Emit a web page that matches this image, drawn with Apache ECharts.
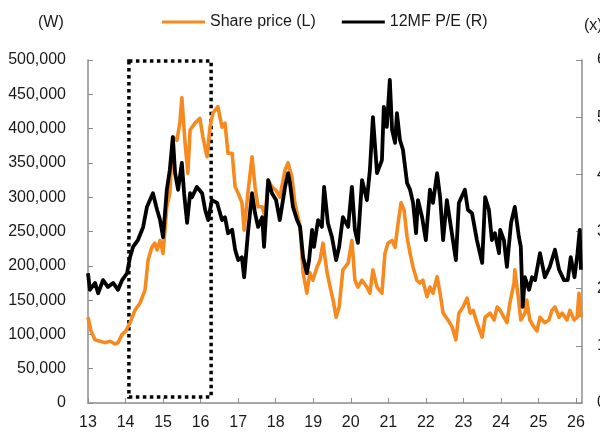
<!DOCTYPE html>
<html>
<head>
<meta charset="utf-8">
<script src="https://cdn.jsdelivr.net/npm/echarts@6/dist/echarts.min.js"></script>
<style>
html,body{margin:0;padding:0;background:#fff;}
#chart{width:600px;height:440px;}
</style>
</head>
<body>
<div id="chart"></div>
<script>
// x values are years (13 = Jan 2013)
var xTicks = [13,14,15,16,17,18,19,20,21,22,23,24,25,26];
var priceYears = [13.00,13.08,13.19,13.32,13.45,13.59,13.72,13.80,13.91,14.01,14.12,14.25,14.39,14.52,14.60,14.70,14.78,14.84,14.92,15.00,
15.10,15.18,15.26,15.37,15.45,15.50,15.58,15.66,15.72,15.85,15.98,16.06,16.17,16.25,16.33,16.46,16.57,16.65,16.73,16.84,
16.92,17.00,17.10,17.16,17.26,17.37,17.45,17.53,17.64,17.72,17.80,17.90,18.01,18.11,18.25,18.33,18.43,18.51,18.65,18.73,
18.83,18.91,18.99,19.10,19.18,19.26,19.37,19.45,19.53,19.61,19.69,19.79,19.93,20.03,20.11,20.19,20.30,20.43,20.51,20.59,
20.70,20.83,20.91,20.99,21.10,21.18,21.26,21.34,21.42,21.50,21.58,21.66,21.76,21.84,21.92,22.03,22.11,22.19,22.30,22.38,
22.46,22.59,22.70,22.80,22.88,22.99,23.10,23.18,23.26,23.36,23.50,23.58,23.71,23.82,23.90,23.98,24.08,24.16,24.24,24.35,
24.37,24.45,24.53,24.64,24.69,24.77,24.88,24.96,25.04,25.17,25.28,25.36,25.44,25.55,25.63,25.76,25.84,25.95,26.03,26.08,26.13];
var priceValues = [125000,105000,92000,90000,88000,90000,86000,88000,100000,105000,117000,135000,146000,165000,208000,227000,233000,223000,237000,218000,
286000,306000,388000,383000,410000,445000,383000,335000,398000,408000,415000,388000,359000,402000,423000,432000,402000,408000,364000,364000,
315000,306000,292000,252000,306000,359000,315000,286000,286000,271000,325000,315000,310000,300000,340000,350000,330000,292000,257000,190000,
160000,190000,179000,198000,208000,233000,190000,169000,150000,125000,140000,194000,204000,237000,179000,169000,179000,169000,160000,194000,
169000,160000,218000,233000,237000,227000,262000,292000,281000,242000,218000,198000,179000,175000,179000,155000,169000,160000,184000,160000,
131000,121000,111000,92000,131000,140000,153000,131000,135000,117000,96000,125000,131000,121000,140000,135000,125000,117000,146000,175000,
194000,160000,121000,131000,150000,121000,111000,105000,125000,117000,121000,135000,140000,125000,131000,121000,135000,121000,125000,160000,125000];

var peYears = [13.00,13.05,13.19,13.27,13.40,13.53,13.67,13.80,13.91,14.04,14.12,14.20,14.33,14.47,14.57,14.65,14.73,14.84,14.92,15.00,
15.10,15.18,15.26,15.32,15.40,15.50,15.56,15.64,15.72,15.77,15.90,16.04,16.12,16.20,16.30,16.44,16.57,16.65,16.73,16.84,
16.92,17.00,17.10,17.16,17.26,17.37,17.45,17.53,17.64,17.69,17.80,17.90,18.01,18.11,18.25,18.33,18.38,18.46,18.57,18.65,
18.73,18.83,18.89,18.97,19.02,19.13,19.23,19.29,19.39,19.50,19.61,19.69,19.79,19.93,20.03,20.11,20.19,20.30,20.43,20.51,
20.59,20.70,20.83,20.88,20.96,21.04,21.10,21.18,21.23,21.31,21.39,21.50,21.58,21.66,21.74,21.79,21.90,22.00,22.11,22.19,
22.30,22.38,22.46,22.56,22.64,22.80,22.88,23.04,23.12,23.23,23.36,23.50,23.58,23.68,23.76,23.84,23.95,23.98,24.08,24.16,
24.27,24.37,24.48,24.53,24.58,24.64,24.75,24.83,24.91,25.04,25.17,25.30,25.44,25.55,25.68,25.78,25.86,25.96,26.04,26.10,26.13];
var peValues = [22.7,19.8,21.0,19.2,21.5,20.3,21.0,19.8,21.5,22.7,25.5,27.3,28.5,30.8,34.3,35.5,36.7,33.8,32.0,29.0,
37.3,40.8,46.5,40.2,37.3,42.0,36.7,31.5,36.7,36.0,37.8,36.7,33.8,32.0,35.5,35.0,32.0,32.5,29.7,30.3,
26.8,25.0,25.5,22.0,29.7,36.7,33.2,30.8,32.5,27.3,39.0,36.7,35.5,32.0,37.8,40.2,38.5,34.3,32.0,30.8,
25.5,22.7,25.0,30.3,27.3,32.0,30.8,37.8,31.5,29.0,25.0,27.3,32.5,30.8,37.8,30.3,28.0,39.0,35.5,40.8,
50.0,40.2,42.5,51.8,48.3,56.5,47.8,45.5,50.7,46.0,44.3,38.5,37.3,35.0,29.7,35.5,32.5,28.5,37.3,35.0,
40.2,36.0,28.5,35.5,32.0,25.0,35.0,37.3,33.8,33.2,28.5,24.5,36.0,33.8,28.5,29.7,26.2,30.3,28.5,23.8,
31.5,34.3,29.0,27.3,16.8,22.0,19.8,22.0,21.5,26.2,22.0,23.8,26.8,23.3,21.5,21.5,25.5,22.0,26.2,30.3,23.3];

// highlighted period box (years, price units)
var boxX = [14.09, 16.28];
var boxY = [8700, 498500];

var legendNames = ['Share price (L)', '12MF P/E (R)'];

function pairs(xs, ys){ return xs.map(function(x,i){ return [x, ys[i]]; }); }

var chart = echarts.init(document.getElementById('chart'), null, {renderer:'canvas'});
var FONT = 'Liberation Sans, Arial, sans-serif';
var axisColor = '#8c8c8c';
chart.setOption({
  animation: false,
  backgroundColor: '#ffffff',
  textStyle: {fontFamily: FONT},
  grid: {left: 88, right: 18, top: 60, bottom: 37, containLabel: false, outerBoundsMode: 'none'},
  legend: {
    top: 9, left: 157,
    data: legendNames,
    icon: 'rect', itemWidth: 43, itemHeight: 3, itemGap: 26,
    textStyle: {fontSize: 16, color: '#1a1a1a', fontFamily: FONT}
  },
  graphic: [
    {type: 'text', left: 38, top: 15, style: {text: '(W)', fontSize: 16, fill: '#1a1a1a', fontFamily: FONT}},
    {type: 'text', left: 584, top: 18, style: {text: '(x)', fontSize: 16, fill: '#1a1a1a', fontFamily: FONT}}
  ],
  xAxis: {
    type: 'value', min: xTicks[0], max: 26.16, interval: 1,
    axisLine: {lineStyle: {color: axisColor, width: 1.5}},
    axisTick: {inside: true, length: 5, lineStyle: {color: axisColor}},
    axisLabel: {fontSize: 16, color: '#1a1a1a', margin: 12, showMaxLabel: false,
      formatter: function(v){ return xTicks.indexOf(v) >= 0 ? String(v) : ''; }},
    splitLine: {show: false}
  },
  yAxis: [
    {type: 'value', min: 0, max: 500000, interval: 50000,
     axisLine: {show: true, lineStyle: {color: axisColor, width: 1.5}},
     axisTick: {show: true, inside: true, length: 5, lineStyle: {color: axisColor}},
     axisLabel: {fontSize: 16, color: '#1a1a1a', margin: 22},
     splitLine: {show: false}},
    {type: 'value', min: 0, max: 60, interval: 10, position: 'right',
     axisLine: {show: true, lineStyle: {color: axisColor, width: 1.5}},
     axisTick: {show: true, inside: true, length: 6, lineStyle: {color: axisColor}},
     axisLabel: {fontSize: 16, color: '#1a1a1a', margin: 15},
     splitLine: {show: false}}
  ],
  series: [
    {name: legendNames[0], type: 'line', yAxisIndex: 0, data: pairs(priceYears, priceValues),
     showSymbol: false, symbol: 'none', color: '#f68a1f',
     lineStyle: {width: 3.6, color: '#f68a1f', join: 'round'}, z: 2,
     markArea: {silent: true, itemStyle: {color: 'rgba(0,0,0,0)', borderColor: '#000', borderWidth: 3.5, borderType: [3.5, 3.5]},
       data: [[{coord: [boxX[0], boxY[1]]}, {coord: [boxX[1], boxY[0]]}]]}},
    {name: legendNames[1], type: 'line', yAxisIndex: 1, data: pairs(peYears, peValues),
     showSymbol: false, symbol: 'none', color: '#000000',
     lineStyle: {width: 3.8, color: '#000000', join: 'round'}, z: 3}
  ]
});
</script>
</body>
</html>
